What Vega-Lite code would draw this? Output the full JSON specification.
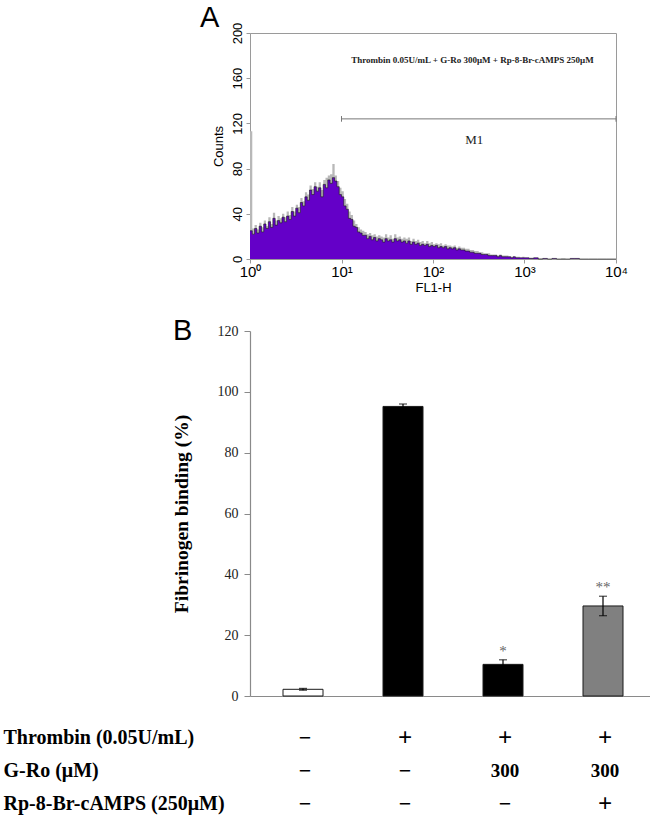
{
  "$schema": "https://vega.github.io/schema/vega-lite/v6.json",
  "background": "white",
  "padding": {"left": 3, "top": 3, "right": 0, "bottom": 0},
  "spacing": 22,
  "config": {
    "view": {"stroke": null},
    "axis": {"grid": false}
  },
  "datasets": {
    "histogram": [
      {"fl1h": 1.000, "counts": 25, "counts_overlay": 113},
      {"fl1h": 1.059, "counts": 22, "counts_overlay": 27},
      {"fl1h": 1.122, "counts": 27, "counts_overlay": 30},
      {"fl1h": 1.189, "counts": 23, "counts_overlay": 26},
      {"fl1h": 1.259, "counts": 29, "counts_overlay": 32},
      {"fl1h": 1.334, "counts": 24, "counts_overlay": 28},
      {"fl1h": 1.413, "counts": 31, "counts_overlay": 34},
      {"fl1h": 1.496, "counts": 27, "counts_overlay": 29},
      {"fl1h": 1.585, "counts": 33, "counts_overlay": 37},
      {"fl1h": 1.679, "counts": 28, "counts_overlay": 31},
      {"fl1h": 1.778, "counts": 36, "counts_overlay": 41},
      {"fl1h": 1.884, "counts": 30, "counts_overlay": 34},
      {"fl1h": 1.995, "counts": 34, "counts_overlay": 38},
      {"fl1h": 2.113, "counts": 32, "counts_overlay": 36},
      {"fl1h": 2.239, "counts": 37, "counts_overlay": 40},
      {"fl1h": 2.371, "counts": 33, "counts_overlay": 37},
      {"fl1h": 2.512, "counts": 38, "counts_overlay": 42},
      {"fl1h": 2.661, "counts": 35, "counts_overlay": 39},
      {"fl1h": 2.818, "counts": 42, "counts_overlay": 46},
      {"fl1h": 2.985, "counts": 38, "counts_overlay": 42},
      {"fl1h": 3.162, "counts": 45, "counts_overlay": 48},
      {"fl1h": 3.350, "counts": 41, "counts_overlay": 46},
      {"fl1h": 3.548, "counts": 50, "counts_overlay": 54},
      {"fl1h": 3.758, "counts": 47, "counts_overlay": 51},
      {"fl1h": 3.981, "counts": 55, "counts_overlay": 59},
      {"fl1h": 4.217, "counts": 52, "counts_overlay": 57},
      {"fl1h": 4.467, "counts": 61, "counts_overlay": 65},
      {"fl1h": 4.732, "counts": 57, "counts_overlay": 62},
      {"fl1h": 5.012, "counts": 64, "counts_overlay": 68},
      {"fl1h": 5.309, "counts": 60, "counts_overlay": 64},
      {"fl1h": 5.623, "counts": 63, "counts_overlay": 68},
      {"fl1h": 5.957, "counts": 55, "counts_overlay": 61},
      {"fl1h": 6.310, "counts": 66, "counts_overlay": 70},
      {"fl1h": 6.683, "counts": 63, "counts_overlay": 72},
      {"fl1h": 7.079, "counts": 70, "counts_overlay": 74},
      {"fl1h": 7.499, "counts": 67, "counts_overlay": 75},
      {"fl1h": 7.943, "counts": 72, "counts_overlay": 84},
      {"fl1h": 8.414, "counts": 69, "counts_overlay": 74},
      {"fl1h": 8.913, "counts": 64, "counts_overlay": 69},
      {"fl1h": 9.441, "counts": 57, "counts_overlay": 63},
      {"fl1h": 10.00, "counts": 55, "counts_overlay": 60},
      {"fl1h": 10.59, "counts": 47, "counts_overlay": 53},
      {"fl1h": 11.22, "counts": 44, "counts_overlay": 49},
      {"fl1h": 11.89, "counts": 36, "counts_overlay": 42},
      {"fl1h": 12.59, "counts": 35, "counts_overlay": 39},
      {"fl1h": 13.34, "counts": 29, "counts_overlay": 34},
      {"fl1h": 14.13, "counts": 28, "counts_overlay": 31},
      {"fl1h": 14.96, "counts": 24, "counts_overlay": 28},
      {"fl1h": 15.85, "counts": 23, "counts_overlay": 26},
      {"fl1h": 16.79, "counts": 21, "counts_overlay": 25},
      {"fl1h": 17.78, "counts": 21, "counts_overlay": 24},
      {"fl1h": 18.84, "counts": 18, "counts_overlay": 22},
      {"fl1h": 19.95, "counts": 20, "counts_overlay": 23},
      {"fl1h": 21.13, "counts": 17, "counts_overlay": 21},
      {"fl1h": 22.39, "counts": 19, "counts_overlay": 22},
      {"fl1h": 23.71, "counts": 16, "counts_overlay": 20},
      {"fl1h": 25.12, "counts": 18, "counts_overlay": 21},
      {"fl1h": 26.61, "counts": 17, "counts_overlay": 20},
      {"fl1h": 28.18, "counts": 15, "counts_overlay": 19},
      {"fl1h": 29.85, "counts": 18, "counts_overlay": 22},
      {"fl1h": 31.62, "counts": 16, "counts_overlay": 19},
      {"fl1h": 33.50, "counts": 17, "counts_overlay": 21},
      {"fl1h": 35.48, "counts": 15, "counts_overlay": 18},
      {"fl1h": 37.58, "counts": 18, "counts_overlay": 22},
      {"fl1h": 39.81, "counts": 16, "counts_overlay": 19},
      {"fl1h": 42.17, "counts": 17, "counts_overlay": 20},
      {"fl1h": 44.67, "counts": 15, "counts_overlay": 18},
      {"fl1h": 47.32, "counts": 16, "counts_overlay": 19},
      {"fl1h": 50.12, "counts": 14, "counts_overlay": 18},
      {"fl1h": 53.09, "counts": 16, "counts_overlay": 19},
      {"fl1h": 56.23, "counts": 13, "counts_overlay": 16},
      {"fl1h": 59.57, "counts": 15, "counts_overlay": 18},
      {"fl1h": 63.10, "counts": 13, "counts_overlay": 16},
      {"fl1h": 66.83, "counts": 14, "counts_overlay": 17},
      {"fl1h": 70.79, "counts": 12, "counts_overlay": 15},
      {"fl1h": 74.99, "counts": 13, "counts_overlay": 16},
      {"fl1h": 79.43, "counts": 12, "counts_overlay": 14},
      {"fl1h": 84.14, "counts": 13, "counts_overlay": 16},
      {"fl1h": 89.13, "counts": 11, "counts_overlay": 14},
      {"fl1h": 94.41, "counts": 12, "counts_overlay": 15},
      {"fl1h": 100.0, "counts": 11, "counts_overlay": 13},
      {"fl1h": 105.9, "counts": 12, "counts_overlay": 14},
      {"fl1h": 112.2, "counts": 10, "counts_overlay": 13},
      {"fl1h": 118.9, "counts": 11, "counts_overlay": 14},
      {"fl1h": 125.9, "counts": 10, "counts_overlay": 12},
      {"fl1h": 133.4, "counts": 11, "counts_overlay": 13},
      {"fl1h": 141.3, "counts": 9, "counts_overlay": 12},
      {"fl1h": 149.6, "counts": 10, "counts_overlay": 12},
      {"fl1h": 158.5, "counts": 9, "counts_overlay": 11},
      {"fl1h": 167.9, "counts": 10, "counts_overlay": 12},
      {"fl1h": 177.8, "counts": 8, "counts_overlay": 10},
      {"fl1h": 188.4, "counts": 9, "counts_overlay": 11},
      {"fl1h": 199.5, "counts": 8, "counts_overlay": 10},
      {"fl1h": 211.3, "counts": 8, "counts_overlay": 10},
      {"fl1h": 223.9, "counts": 7, "counts_overlay": 9},
      {"fl1h": 237.1, "counts": 7, "counts_overlay": 9},
      {"fl1h": 251.2, "counts": 6, "counts_overlay": 8},
      {"fl1h": 266.1, "counts": 6, "counts_overlay": 8},
      {"fl1h": 281.8, "counts": 5, "counts_overlay": 7},
      {"fl1h": 298.5, "counts": 5, "counts_overlay": 7},
      {"fl1h": 316.2, "counts": 5, "counts_overlay": 6},
      {"fl1h": 335.0, "counts": 4, "counts_overlay": 6},
      {"fl1h": 354.8, "counts": 4, "counts_overlay": 5},
      {"fl1h": 375.8, "counts": 4, "counts_overlay": 5},
      {"fl1h": 398.1, "counts": 3, "counts_overlay": 5},
      {"fl1h": 421.7, "counts": 3, "counts_overlay": 4},
      {"fl1h": 446.7, "counts": 3, "counts_overlay": 4},
      {"fl1h": 473.2, "counts": 3, "counts_overlay": 4},
      {"fl1h": 501.2, "counts": 2, "counts_overlay": 3},
      {"fl1h": 530.9, "counts": 3, "counts_overlay": 4},
      {"fl1h": 562.3, "counts": 2, "counts_overlay": 3},
      {"fl1h": 595.7, "counts": 2, "counts_overlay": 3},
      {"fl1h": 631.0, "counts": 2, "counts_overlay": 3},
      {"fl1h": 668.3, "counts": 2, "counts_overlay": 2},
      {"fl1h": 707.9, "counts": 1, "counts_overlay": 2},
      {"fl1h": 749.9, "counts": 2, "counts_overlay": 2},
      {"fl1h": 794.3, "counts": 1, "counts_overlay": 2},
      {"fl1h": 841.4, "counts": 1, "counts_overlay": 2},
      {"fl1h": 891.3, "counts": 1, "counts_overlay": 1},
      {"fl1h": 944.1, "counts": 1, "counts_overlay": 2},
      {"fl1h": 1000, "counts": 1, "counts_overlay": 1},
      {"fl1h": 1122, "counts": 0.5, "counts_overlay": 1},
      {"fl1h": 1259, "counts": 1, "counts_overlay": 1},
      {"fl1h": 1413, "counts": 0, "counts_overlay": 0.5},
      {"fl1h": 1585, "counts": 0.5, "counts_overlay": 0.5},
      {"fl1h": 1778, "counts": 0, "counts_overlay": 0},
      {"fl1h": 1995, "counts": 0.5, "counts_overlay": 0.5},
      {"fl1h": 2239, "counts": 0, "counts_overlay": 0},
      {"fl1h": 2512, "counts": 0, "counts_overlay": 0.5},
      {"fl1h": 2818, "counts": 0, "counts_overlay": 0},
      {"fl1h": 3162, "counts": 0.5, "counts_overlay": 0.5},
      {"fl1h": 3548, "counts": 0.5, "counts_overlay": 0.5},
      {"fl1h": 3981, "counts": 0, "counts_overlay": 0},
      {"fl1h": 5012, "counts": 0, "counts_overlay": 0},
      {"fl1h": 6310, "counts": 0, "counts_overlay": 0},
      {"fl1h": 7943, "counts": 0, "counts_overlay": 0},
      {"fl1h": 10000, "counts": 0, "counts_overlay": 0}
    ],
    "binding": [
      {"condition": "Control", "binding": 2.2, "lo": 1.9, "hi": 2.5, "sig": ""},
      {"condition": "Thrombin", "binding": 95.2, "lo": 94.4, "hi": 96.0, "sig": ""},
      {"condition": "Thrombin + G-Ro", "binding": 10.4, "lo": 8.8, "hi": 11.9, "sig": "*"},
      {"condition": "Thrombin + G-Ro + Rp-8-Br-cAMPS", "binding": 29.6, "lo": 26.4, "hi": 32.8, "sig": "**"}
    ],
    "table": [
      {"condition": "Control", "factor": "Thrombin (0.05U/mL)", "level": "−"},
      {"condition": "Thrombin", "factor": "Thrombin (0.05U/mL)", "level": "+"},
      {"condition": "Thrombin + G-Ro", "factor": "Thrombin (0.05U/mL)", "level": "+"},
      {"condition": "Thrombin + G-Ro + Rp-8-Br-cAMPS", "factor": "Thrombin (0.05U/mL)", "level": "+"},
      {"condition": "Control", "factor": "G-Ro (μM)", "level": "−"},
      {"condition": "Thrombin", "factor": "G-Ro (μM)", "level": "−"},
      {"condition": "Thrombin + G-Ro", "factor": "G-Ro (μM)", "level": "300"},
      {"condition": "Thrombin + G-Ro + Rp-8-Br-cAMPS", "factor": "G-Ro (μM)", "level": "300"},
      {"condition": "Control", "factor": "Rp-8-Br-cAMPS (250μM)", "level": "−"},
      {"condition": "Thrombin", "factor": "Rp-8-Br-cAMPS (250μM)", "level": "−"},
      {"condition": "Thrombin + G-Ro", "factor": "Rp-8-Br-cAMPS (250μM)", "level": "−"},
      {"condition": "Thrombin + G-Ro + Rp-8-Br-cAMPS", "factor": "Rp-8-Br-cAMPS (250μM)", "level": "+"}
    ]
  },
  "vconcat": [
    {
      "width": 366,
      "height": 226,
      "view": {"stroke": "#9a9a9a", "strokeWidth": 1},
      "title": {"text": "A", "anchor": "start", "frame": "group", "font": "Liberation Sans", "fontSize": 29, "fontWeight": "normal", "color": "black", "dx": -50, "offset": -34, "baseline": "alphabetic"},
      "data": {"name": "histogram"},
      "layer": [
        {
          "mark": {"type": "area", "interpolate": "step-after", "color": "#b8b8b8"},
          "encoding": {
            "x": {"field": "fl1h", "type": "quantitative", "title": "FL1-H",
              "scale": {"type": "log", "domain": [1, 10000], "nice": false},
              "axis": {"values": [1, 10, 100, 1000, 10000], "labelExpr": "'10' + ['⁰','¹','²','³','⁴'][round(log(datum.value)/LN10)]", "labelFont": "Liberation Sans", "labelFontSize": 15, "labelColor": "black", "labelPadding": 1, "tickSize": 4, "tickColor": "#9a9a9a", "domainColor": "#9a9a9a", "titleFont": "Liberation Sans", "titleFontSize": 13, "titleFontWeight": "normal", "titleColor": "black", "titlePadding": 2, "labelFlush": false}},
            "y": {"field": "counts_overlay", "type": "quantitative", "title": "Counts",
              "scale": {"domain": [0, 200], "nice": false},
              "axis": {"values": [0, 40, 80, 120, 160, 200], "labelAngle": 270, "labelFont": "Liberation Sans", "labelFontSize": 13, "labelColor": "black", "labelPadding": 2, "tickSize": 4, "tickColor": "#9a9a9a", "domainColor": "#9a9a9a", "titleFont": "Liberation Sans", "titleFontSize": 13, "titleFontWeight": "normal", "titleColor": "black", "titlePadding": 6, "labelFlush": false}}
          }
        },
        {
          "mark": {"type": "area", "interpolate": "step-after", "color": "#6400c8"},
          "encoding": {
            "x": {"field": "fl1h", "type": "quantitative"},
            "y": {"field": "counts", "type": "quantitative"}
          }
        },
        {
          "mark": {"type": "line", "interpolate": "step-after", "color": "#1a1a1a", "strokeWidth": 0.6},
          "encoding": {
            "x": {"field": "fl1h", "type": "quantitative"},
            "y": {"field": "counts", "type": "quantitative"}
          }
        },
        {
          "data": {"values": [{}]},
          "mark": {"type": "rule", "color": "#777", "strokeWidth": 1},
          "encoding": {
            "x": {"datum": 10, "type": "quantitative"},
            "x2": {"datum": 10000},
            "y": {"datum": 124, "type": "quantitative"}
          }
        },
        {
          "data": {"values": [{"end": 10}, {"end": 10000}]},
          "mark": {"type": "rule", "color": "#777", "strokeWidth": 1},
          "encoding": {
            "x": {"field": "end", "type": "quantitative"},
            "y": {"datum": 121.5, "type": "quantitative"},
            "y2": {"datum": 126.5}
          }
        },
        {
          "data": {"values": [{}]},
          "mark": {"type": "text", "text": "M1", "font": "Liberation Serif", "fontSize": 13, "color": "#222", "baseline": "middle"},
          "encoding": {
            "x": {"datum": 282, "type": "quantitative"},
            "y": {"datum": 105, "type": "quantitative"}
          }
        },
        {
          "data": {"values": [{}]},
          "mark": {"type": "text", "text": "Thrombin 0.05U/mL + G-Ro 300μM + Rp-8-Br-cAMPS 250μM", "font": "Liberation Serif", "fontSize": 9, "fontWeight": "bold", "color": "#222", "baseline": "middle"},
          "encoding": {
            "x": {"datum": 270, "type": "quantitative"},
            "y": {"datum": 176, "type": "quantitative"}
          }
        }
      ]
    },
    {
      "width": 400,
      "height": 365,
      "title": {"text": "B", "anchor": "start", "frame": "group", "font": "Liberation Sans", "fontSize": 29, "fontWeight": "normal", "color": "black", "dx": -77, "offset": -31, "dy": 14, "baseline": "alphabetic"},
      "data": {"name": "binding"},
      "encoding": {
        "x": {"field": "condition", "type": "nominal", "sort": null,
          "scale": {"domain": ["Control", "Thrombin", "Thrombin + G-Ro", "Thrombin + G-Ro + Rp-8-Br-cAMPS"], "paddingInner": 0.6, "paddingOuter": 0.3, "align": 0.55},
          "axis": {"labels": false, "ticks": false, "title": null, "domainColor": "#8a8a8a", "domainWidth": 1.2}}
      },
      "layer": [
        {
          "mark": {"type": "bar", "stroke": "#1a1a1a", "strokeWidth": 1},
          "encoding": {
            "y": {"field": "binding", "type": "quantitative", "title": "Fibrinogen binding (%)",
              "scale": {"domain": [0, 120], "nice": false},
              "axis": {"values": [0, 20, 40, 60, 80, 100, 120], "labelFont": "Liberation Serif", "labelFontSize": 14, "labelColor": "#222", "labelPadding": 6, "tickSize": 6, "tickColor": "#8a8a8a", "domainColor": "#8a8a8a", "domainWidth": 1.2, "titleFont": "Liberation Serif", "titleFontSize": 19.5, "titleFontWeight": "bold", "titleColor": "black", "titlePadding": 26}},
            "color": {"field": "condition", "type": "nominal", "legend": null,
              "scale": {"domain": ["Control", "Thrombin", "Thrombin + G-Ro", "Thrombin + G-Ro + Rp-8-Br-cAMPS"], "range": ["#ffffff", "#000000", "#000000", "#808080"]}}
          }
        },
        {
          "mark": {"type": "rule", "color": "black", "strokeWidth": 1.2},
          "encoding": {
            "y": {"field": "lo", "type": "quantitative"},
            "y2": {"field": "hi"}
          }
        },
        {
          "mark": {"type": "tick", "color": "black", "thickness": 1.2, "size": 8, "orient": "horizontal"},
          "encoding": {"y": {"field": "hi", "type": "quantitative"}}
        },
        {
          "mark": {"type": "tick", "color": "black", "thickness": 1.2, "size": 8, "orient": "horizontal"},
          "encoding": {"y": {"field": "lo", "type": "quantitative"}}
        },
        {
          "mark": {"type": "text", "font": "Liberation Serif", "fontSize": 15, "color": "#666666", "baseline": "alphabetic", "dy": -4},
          "encoding": {
            "y": {"field": "hi", "type": "quantitative"},
            "text": {"field": "sig"}
          }
        }
      ]
    },
    {
      "width": 400,
      "height": 99,
      "data": {"name": "table"},
      "mark": {"type": "text", "font": "Liberation Serif", "fontWeight": "bold", "color": "black", "baseline": "middle", "dy": -4},
      "encoding": {
        "x": {"field": "condition", "type": "nominal", "sort": null,
          "scale": {"domain": ["Control", "Thrombin", "Thrombin + G-Ro", "Thrombin + G-Ro + Rp-8-Br-cAMPS"], "paddingInner": 0.6, "paddingOuter": 0.3, "align": 0.55},
          "axis": null},
        "y": {"field": "factor", "type": "nominal", "sort": null,
          "scale": {"domain": ["Thrombin (0.05U/mL)", "G-Ro (μM)", "Rp-8-Br-cAMPS (250μM)"], "paddingInner": 0, "paddingOuter": 0},
          "axis": {"title": null, "domain": false, "ticks": false, "tickSize": 0, "labelAlign": "left", "labelPadding": 247, "labelOffset": -4, "labelLimit": 400, "labelFont": "Liberation Serif", "labelFontSize": 20, "labelFontWeight": "bold", "labelColor": "black"}},
        "size": {"field": "level", "type": "ordinal", "legend": null,
          "scale": {"domain": ["+", "−", "300"], "range": [25, 19, 19]}},
        "text": {"field": "level"}
      }
    }
  ]
}
